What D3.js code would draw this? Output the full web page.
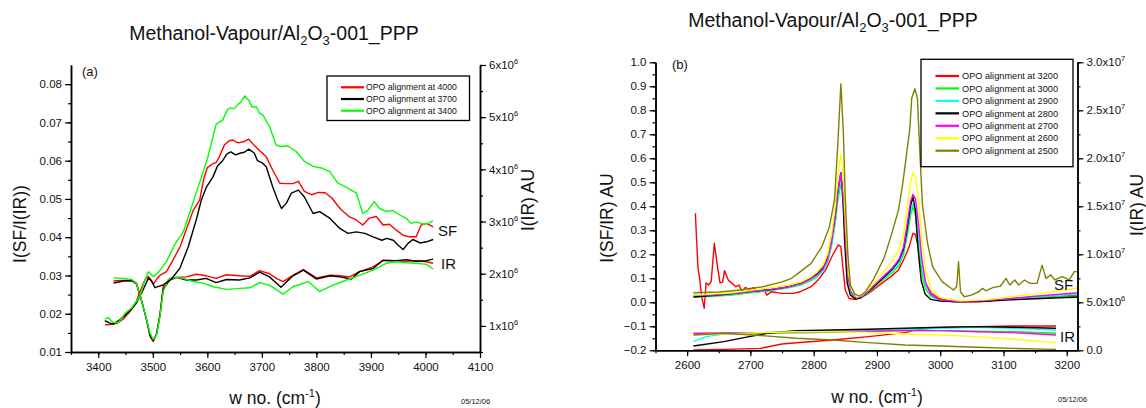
<!DOCTYPE html>
<html>
<head>
<meta charset="utf-8">
<script src="https://cdn.jsdelivr.net/npm/d3@7"></script>
<style>
  body { margin: 0; background: #fff; }
  text { font-family: "Liberation Sans", Arial, sans-serif; fill: #111; }
</style>
</head>
<body>
<svg id="chart" width="1146" height="408"></svg>
<script>
// ---------- Panel (a): OPO alignment 4000 / 3700 / 3400 ----------
const legendA = ["OPO alignment at 4000", "OPO alignment at 3700", "OPO alignment at 3400"];
const colorsA = ["#ff0000", "#000000", "#00ff00"];
const xTicksA = [3400, 3500, 3600, 3700, 3800, 3900, 4000, 4100];
const yTicksA = [0.01, 0.02, 0.03, 0.04, 0.05, 0.06, 0.07, 0.08];
const rTicksA = [1, 2, 3, 4, 5, 6];           // x10^6

// I(SF)/I(IR), wavenumber vs ratio
const sfA4000 = [[3412,0.0171],[3422,0.0172],[3434,0.0175],[3445,0.0185],[3458,0.0205],[3468,0.0225],[3476,0.0257],[3486,0.029],[3492,0.0297],[3497,0.0288],[3501,0.0277],[3507,0.029],[3513,0.030],[3525,0.031],[3537,0.034],[3550,0.0375],[3562,0.0423],[3574,0.047],[3586,0.0497],[3593,0.055],[3600,0.0582],[3610,0.0592],[3616,0.0595],[3622,0.061],[3631,0.064],[3640,0.0652],[3647,0.0654],[3653,0.0648],[3659,0.0647],[3667,0.065],[3676,0.0656],[3686,0.064],[3695,0.0627],[3708,0.061],[3720,0.0575],[3733,0.0541],[3745,0.054],[3757,0.054],[3767,0.0546],[3778,0.052],[3791,0.0511],[3804,0.0517],[3816,0.0516],[3828,0.0503],[3840,0.0481],[3846,0.0471],[3861,0.0453],[3873,0.0445],[3885,0.0432],[3897,0.045],[3910,0.0454],[3922,0.0432],[3934,0.0434],[3946,0.0419],[3959,0.0405],[3971,0.0401],[3983,0.0401],[3992,0.0432],[4002,0.0436],[4014,0.0427]];
const sfA3700 = [[3412,0.0182],[3420,0.0176],[3428,0.0173],[3440,0.0185],[3450,0.0197],[3459,0.021],[3470,0.0228],[3482,0.0262],[3492,0.0293],[3498,0.0285],[3504,0.0268],[3512,0.0272],[3519,0.0275],[3534,0.029],[3550,0.032],[3565,0.0375],[3580,0.0447],[3589,0.0497],[3598,0.053],[3610,0.0557],[3619,0.0587],[3628,0.060],[3636,0.0618],[3643,0.0623],[3652,0.0615],[3661,0.062],[3668,0.0622],[3676,0.063],[3686,0.062],[3692,0.060],[3700,0.0595],[3708,0.0584],[3720,0.0531],[3729,0.0497],[3736,0.0475],[3745,0.0489],[3754,0.0515],[3767,0.0523],[3778,0.0505],[3794,0.0462],[3806,0.0467],[3825,0.0449],[3843,0.0423],[3858,0.041],[3873,0.0414],[3889,0.041],[3904,0.0401],[3920,0.0392],[3929,0.0397],[3941,0.0392],[3950,0.0379],[3959,0.0368],[3968,0.0384],[3977,0.0394],[3990,0.0385],[4002,0.0388],[4014,0.0394]];
const sfA3400 = [[3412,0.0186],[3418,0.019],[3427,0.0177],[3437,0.0177],[3449,0.0201],[3461,0.0215],[3476,0.0245],[3485,0.0285],[3492,0.031],[3501,0.0297],[3508,0.0305],[3513,0.0314],[3525,0.0336],[3541,0.0383],[3556,0.0414],[3568,0.0465],[3578,0.051],[3590,0.056],[3601,0.061],[3610,0.066],[3616,0.0695],[3628,0.0706],[3637,0.0734],[3643,0.0738],[3649,0.0736],[3655,0.0745],[3661,0.0753],[3669,0.0769],[3676,0.0758],[3682,0.074],[3690,0.0741],[3695,0.0725],[3702,0.0719],[3714,0.0689],[3726,0.0641],[3735,0.0637],[3747,0.0639],[3763,0.0624],[3778,0.0598],[3794,0.0585],[3809,0.0581],[3824,0.0572],[3839,0.0542],[3857,0.0529],[3873,0.0516],[3880,0.0485],[3885,0.0462],[3894,0.047],[3906,0.0493],[3916,0.0475],[3928,0.0467],[3940,0.047],[3953,0.0458],[3965,0.0449],[3974,0.0436],[3983,0.044],[3996,0.0434],[4005,0.0436],[4014,0.0443]];

// I(IR), wavenumber vs intensity in units of 10^6
const irA4000 = [[3428,1.86],[3440,1.87],[3452,1.87],[3462,1.86],[3470,1.80],[3479,1.5],[3489,1.1],[3495,0.8],[3501,0.70],[3507,0.85],[3513,1.2],[3519,1.75],[3531,1.91],[3543,1.93],[3562,1.94],[3580,1.99],[3598,1.96],[3616,1.91],[3635,1.98],[3659,1.96],[3678,1.95],[3696,2.06],[3714,2.0],[3728,1.9],[3739,1.85],[3757,1.97],[3776,2.08],[3800,1.92],[3825,1.97],[3843,1.96],[3861,1.94],[3879,2.04],[3904,2.13],[3922,2.25],[3940,2.25],[3965,2.24],[3983,2.25],[4002,2.23],[4014,2.2]];
const irA3700 = [[3428,1.82],[3446,1.86],[3462,1.87],[3470,1.82],[3479,1.5],[3489,1.1],[3495,0.82],[3501,0.72],[3507,0.85],[3513,1.2],[3519,1.7],[3531,1.88],[3543,1.93],[3562,1.88],[3580,1.88],[3598,1.91],[3616,1.83],[3635,1.89],[3659,1.88],[3678,1.92],[3696,2.03],[3714,1.94],[3735,1.74],[3757,1.96],[3776,2.07],[3800,1.9],[3825,1.96],[3843,1.94],[3864,1.90],[3879,2.04],[3904,2.1],[3922,2.26],[3946,2.25],[3965,2.27],[3983,2.24],[4002,2.25],[4014,2.28]];
const irA3400 = [[3428,1.92],[3446,1.91],[3461,1.89],[3470,1.82],[3479,1.5],[3489,1.11],[3495,0.86],[3501,0.74],[3507,0.83],[3513,1.18],[3519,1.66],[3528,1.88],[3541,1.93],[3556,1.91],[3574,1.85],[3592,1.82],[3611,1.75],[3635,1.70],[3660,1.72],[3678,1.73],[3696,1.83],[3714,1.78],[3739,1.61],[3757,1.75],[3785,1.85],[3806,1.66],[3831,1.78],[3855,1.88],[3879,1.97],[3904,2.07],[3928,2.2],[3946,2.23],[3965,2.21],[3983,2.2],[4002,2.18],[4014,2.09]];

// ---------- Panel (b): OPO alignment 3200 ... 2500 ----------
const legendB = ["OPO alignment at 3200", "OPO alignment at 3000", "OPO alignment at 2900", "OPO alignment at 2800", "OPO alignment at 2700", "OPO alignment at 2600", "OPO alignment at 2500"];
const colorsB = ["#ff0000", "#00ff00", "#00ffff", "#000000", "#ff00ff", "#ffff00", "#808000"];
const xTicksB = [2600, 2700, 2800, 2900, 3000, 3100, 3200];
const yTicksB = [-0.2, -0.1, 0.0, 0.1, 0.2, 0.3, 0.4, 0.5, 0.6, 0.7, 0.8, 0.9, 1.0];
const rTicksB = [0, 5, 10, 15, 20, 25, 30];   // x10^6

const sfB3200 = [[2613,0.371],[2617,0.148],[2620,0.093],[2623,0.023],[2627,-0.025],[2630,0.081],[2634,0.072],[2638,0.086],[2643,0.246],[2648,0.148],[2652,0.081],[2656,0.083],[2659,0.132],[2665,0.093],[2670,0.081],[2677,0.065],[2682,0.072],[2687,0.044],[2692,0.062],[2699,0.051],[2705,0.062],[2713,0.044],[2722,0.051],[2726,0.03],[2733,0.044],[2750,0.037],[2767,0.037],[2779,0.044],[2796,0.065],[2807,0.093],[2819,0.135],[2830,0.197],[2839,0.239],[2843,0.232],[2846,0.148],[2850,0.051],[2856,0.016],[2865,0.012],[2873,0.02],[2882,0.03],[2894,0.051],[2911,0.086],[2922,0.107],[2934,0.135],[2942,0.176],[2951,0.232],[2957,0.288],[2961,0.281],[2965,0.232],[2971,0.148],[2977,0.079],[2986,0.037],[2998,0.016],[3021,0.002],[3061,0.002],[3118,0.016],[3175,0.023],[3220,0.03]];
const sfB3000 = [[2610,0.022],[2640,0.025],[2670,0.03],[2700,0.04],[2730,0.048],[2760,0.06],[2780,0.072],[2795,0.09],[2805,0.105],[2815,0.135],[2822,0.17],[2828,0.23],[2834,0.33],[2838,0.42],[2843,0.50],[2847,0.40],[2851,0.2],[2855,0.07],[2860,0.03],[2868,0.015],[2876,0.02],[2885,0.035],[2895,0.06],[2905,0.085],[2915,0.105],[2925,0.125],[2935,0.155],[2942,0.2],[2948,0.28],[2953,0.36],[2957,0.40],[2961,0.36],[2965,0.25],[2970,0.13],[2976,0.06],[2985,0.025],[3000,0.008],[3030,0.003],[3070,0.005],[3110,0.012],[3150,0.018],[3220,0.027]];
const sfB2900 = [[2610,0.025],[2640,0.027],[2670,0.033],[2700,0.042],[2730,0.05],[2760,0.062],[2780,0.075],[2795,0.092],[2805,0.108],[2815,0.13],[2822,0.17],[2828,0.24],[2834,0.34],[2838,0.44],[2843,0.51],[2847,0.42],[2851,0.22],[2855,0.08],[2860,0.035],[2868,0.016],[2876,0.022],[2885,0.04],[2895,0.065],[2905,0.09],[2915,0.11],[2925,0.135],[2935,0.165],[2942,0.21],[2948,0.3],[2953,0.38],[2957,0.41],[2961,0.38],[2966,0.28],[2971,0.15],[2977,0.07],[2986,0.025],[3000,0.008],[3030,0.003],[3070,0.006],[3110,0.014],[3150,0.022],[3220,0.035]];
const sfB2800 = [[2610,0.022],[2640,0.028],[2670,0.035],[2700,0.045],[2730,0.052],[2760,0.065],[2780,0.08],[2795,0.1],[2805,0.118],[2815,0.145],[2822,0.19],[2828,0.26],[2834,0.36],[2838,0.46],[2843,0.54],[2846,0.45],[2849,0.25],[2853,0.08],[2858,0.03],[2866,0.014],[2874,0.018],[2885,0.04],[2895,0.065],[2905,0.09],[2915,0.115],[2925,0.14],[2935,0.175],[2942,0.22],[2948,0.31],[2953,0.4],[2957,0.44],[2961,0.38],[2965,0.22],[2970,0.09],[2976,0.035],[2985,0.012],[3000,0.005],[3030,0.002],[3070,0.004],[3110,0.01],[3150,0.015],[3220,0.022]];
const sfB2700 = [[2610,0.03],[2640,0.03],[2670,0.036],[2700,0.045],[2730,0.053],[2760,0.065],[2780,0.078],[2795,0.097],[2805,0.113],[2815,0.14],[2822,0.18],[2828,0.25],[2834,0.36],[2838,0.46],[2843,0.54],[2847,0.44],[2851,0.24],[2855,0.09],[2860,0.04],[2868,0.018],[2876,0.024],[2885,0.042],[2895,0.07],[2905,0.095],[2915,0.12],[2925,0.145],[2935,0.18],[2942,0.23],[2948,0.33],[2953,0.42],[2957,0.45],[2961,0.43],[2966,0.32],[2971,0.18],[2977,0.08],[2986,0.03],[3000,0.01],[3030,0.003],[3070,0.007],[3110,0.016],[3150,0.025],[3220,0.04]];
const sfB2600 = [[2610,0.03],[2640,0.035],[2670,0.04],[2700,0.05],[2730,0.06],[2760,0.072],[2780,0.085],[2795,0.105],[2805,0.125],[2815,0.155],[2822,0.2],[2828,0.28],[2834,0.4],[2838,0.52],[2843,0.62],[2847,0.52],[2851,0.3],[2855,0.12],[2860,0.05],[2868,0.022],[2876,0.028],[2885,0.05],[2895,0.08],[2905,0.11],[2915,0.14],[2925,0.175],[2935,0.22],[2942,0.28],[2948,0.4],[2953,0.5],[2957,0.54],[2961,0.52],[2966,0.42],[2971,0.26],[2977,0.13],[2986,0.05],[3000,0.02],[3030,0.006],[3070,0.01],[3110,0.022],[3150,0.035],[3190,0.048],[3220,0.062]];
const sfB2500 = [[2610,0.04],[2650,0.043],[2680,0.05],[2700,0.058],[2720,0.065],[2750,0.085],[2765,0.1],[2779,0.128],[2796,0.162],[2813,0.232],[2825,0.315],[2833,0.43],[2838,0.65],[2843,0.91],[2847,0.7],[2850,0.43],[2854,0.2],[2858,0.072],[2865,0.034],[2873,0.026],[2882,0.044],[2894,0.093],[2911,0.183],[2922,0.273],[2934,0.384],[2940,0.48],[2945,0.58],[2952,0.725],[2955,0.85],[2960,0.89],[2964,0.85],[2968,0.614],[2972,0.405],[2980,0.246],[2988,0.148],[3003,0.086],[3021,0.051],[3026,0.065],[3029,0.169],[3032,0.044],[3038,0.023],[3049,0.03],[3061,0.044],[3067,0.058],[3072,0.048],[3084,0.062],[3095,0.067],[3104,0.1],[3110,0.072],[3118,0.093],[3124,0.072],[3133,0.093],[3142,0.079],[3153,0.079],[3161,0.155],[3167,0.1],[3175,0.114],[3181,0.093],[3193,0.107],[3204,0.093],[3212,0.128],[3220,0.128]];

// I(IR) in units of 10^6
const irB3200 = [[2610,0.03],[2660,0.1],[2716,0.2],[2750,0.65],[2773,0.79],[2830,1.07],[2887,1.42],[2944,1.84],[2967,2.2],[3001,2.36],[3058,2.47],[3116,2.53],[3183,2.53]];
const irB3000 = [[2610,1.7],[2716,1.77],[2830,1.87],[2944,2.05],[3001,2.05],[3116,1.94],[3183,1.77]];
const irB2900 = [[2610,0.9],[2630,1.42],[2658,1.7],[2716,1.84],[2773,1.94],[2887,2.05],[3001,2.29],[3058,2.4],[3116,2.29],[3183,2.12]];
const irB2800 = [[2610,0.45],[2658,0.9],[2698,1.42],[2727,1.77],[2773,2.05],[2830,2.12],[2887,2.19],[2944,2.29],[3001,2.4],[3058,2.47],[3116,2.4],[3183,2.29]];
const irB2700 = [[2610,1.77],[2716,1.84],[2830,1.94],[2944,2.05],[3001,2.05],[3058,1.94],[3116,1.84],[3183,1.6]];
const irB2600 = [[2610,1.6],[2658,1.7],[2716,1.84],[2773,1.94],[2830,1.94],[2887,1.87],[2944,1.7],[3001,1.6],[3058,1.42],[3116,1.15],[3183,0.8]];
const irB2500 = [[2610,1.6],[2658,1.77],[2705,1.6],[2773,1.25],[2830,1.07],[2887,0.8],[2944,0.55],[3001,0.45],[3058,0.31],[3116,0.2],[3183,0.1]];

// ---------- drawing ----------
const svg = d3.select("#chart");
const FONT_TICK = 11.5;

function supLabel(sel, base, exp) {
  sel.text(null);
  sel.append("tspan").text(base);
  sel.append("tspan").attr("dy", -5).attr("font-size", 7.5).text(exp);
}

function drawPanel(p) {
  const g = svg.append("g");
  const x = d3.scaleLinear().domain(p.xDomain).range([p.left, p.right]);
  const y = d3.scaleLinear().domain(p.yDomain).range([p.bottom, p.top]);
  const r = d3.scaleLinear().domain(p.rDomain).range([p.bottom, p.top]);

  const clipId = "clip-" + p.id;
  g.append("clipPath").attr("id", clipId).append("rect")
    .attr("x", p.left).attr("y", p.top).attr("width", p.right - p.left).attr("height", p.bottom - p.top);

  // series
  const plot = g.append("g").attr("clip-path", `url(#${clipId})`);
  const lineL = d3.line().x(d => x(d[0])).y(d => y(d[1]));
  const lineR = d3.line().x(d => x(d[0])).y(d => r(d[1]));
  p.ir.forEach((s, i) => plot.append("path").attr("d", lineR(s)).attr("fill", "none")
    .attr("stroke", p.colors[i]).attr("stroke-width", 1.4).attr("stroke-linejoin", "round"));
  p.sf.forEach((s, i) => plot.append("path").attr("d", lineL(s)).attr("fill", "none")
    .attr("stroke", p.colors[i]).attr("stroke-width", 1.4).attr("stroke-linejoin", "round"));

  // axes: minor ticks first, then major ticks with labels
  const minorX = d3.range(Math.ceil(p.xDomain[0] / 50) * 50, p.xDomain[1] + 1, 50);
  const axB = g.append("g").attr("transform", `translate(0,${p.bottom})`);
  axB.append("g").call(d3.axisBottom(x).tickValues(minorX).tickSize(3).tickSizeOuter(0).tickFormat(""));
  axB.append("g").call(d3.axisBottom(x).tickValues(p.xTicks).tickSize(6).tickSizeOuter(0).tickPadding(5).tickFormat(d3.format("d")));

  const axL = g.append("g").attr("transform", `translate(${p.left},0)`);
  axL.append("g").call(d3.axisLeft(y).tickValues(p.yMinor).tickSize(3).tickSizeOuter(0).tickFormat(""));
  axL.append("g").call(d3.axisLeft(y).tickValues(p.yTicks).tickSize(6).tickSizeOuter(0).tickPadding(3).tickFormat(p.yFormat));

  const axR = g.append("g").attr("transform", `translate(${p.right},0)`);
  axR.append("g").call(d3.axisRight(r).tickValues(p.rMinor).tickSize(3).tickSizeOuter(0).tickFormat(""));
  const major = axR.append("g").call(d3.axisRight(r).tickValues(p.rTicks).tickSize(6).tickSizeOuter(0).tickPadding(3));
  major.selectAll(".tick text").each(function(d) { const l = p.rLabel(d); supLabel(d3.select(this), l[0], l[1]); });

  g.selectAll(".domain").attr("stroke", "#000").attr("stroke-width", 1.5);
  g.selectAll(".tick line").attr("stroke", "#000").attr("stroke-width", 1.2);
  g.selectAll(".tick text").attr("font-size", FONT_TICK).attr("font-family", "Liberation Sans, Arial, sans-serif").attr("fill", "#111");

  // title
  const t = g.append("text").attr("x", p.titleX).attr("y", p.titleY).attr("text-anchor", "middle").attr("font-size", 19.5);
  t.append("tspan").text("Methanol-Vapour/Al");
  t.append("tspan").attr("dy", 5).attr("font-size", 13).text("2");
  t.append("tspan").attr("dy", -5).text("O");
  t.append("tspan").attr("dy", 5).attr("font-size", 13).text("3");
  t.append("tspan").attr("dy", -5).text("-001_PPP");

  // panel tag
  g.append("text").attr("x", p.tagX).attr("y", p.tagY).attr("font-size", 13).text(p.tag);

  // axis titles
  const xt = g.append("text").attr("x", p.xTitleX).attr("y", p.xTitleY).attr("text-anchor", "middle").attr("font-size", 17.5);
  xt.append("tspan").text("w no. (cm");
  xt.append("tspan").attr("dy", -7).attr("font-size", 11).text("-1");
  xt.append("tspan").attr("dy", 7).text(")");

  g.append("text").attr("transform", `translate(${p.yTitleX},${p.yTitleY}) rotate(-90)`)
    .attr("text-anchor", "middle").attr("font-size", 17.5).text(p.yTitle);
  g.append("text").attr("transform", `translate(${p.rTitleX},${p.rTitleY}) rotate(-90)`)
    .attr("text-anchor", "middle").attr("font-size", 17.5).text("I(IR) AU");

  // SF / IR markers
  g.append("text").attr("x", p.sfX).attr("y", p.sfY).attr("font-size", 15).text("SF");
  g.append("text").attr("x", p.irX).attr("y", p.irY).attr("font-size", 15).text("IR");

  // date stamp
  g.append("text").attr("x", p.dateX).attr("y", p.dateY).attr("font-size", 7.5).text("05/12/06");

  // legend
  const lg = g.append("g");
  lg.append("rect").attr("x", p.lg.x).attr("y", p.lg.y).attr("width", p.lg.w).attr("height", p.lg.h)
    .attr("fill", "#fff").attr("stroke", "#000").attr("stroke-width", 1.3);
  p.legend.forEach((name, i) => {
    const yy = p.lg.row0 + i * p.lg.step;
    lg.append("line").attr("x1", p.lg.lx1).attr("x2", p.lg.lx2).attr("y1", yy).attr("y2", yy)
      .attr("stroke", p.colors[i]).attr("stroke-width", 2.2);
    lg.append("text").attr("x", p.lg.tx).attr("y", yy).attr("dy", "0.35em").attr("font-size", p.lg.fs).text(name);
  });
}

const fmt2 = d3.format(".2f");
const fmt1 = d3.format(".1f");

drawPanel({
  id: "a", left: 71, right: 480, top: 65, bottom: 352,
  xDomain: [3350, 4100], yDomain: [0.01, 0.085], rDomain: [0.5, 6.0],
  xTicks: xTicksA, yTicks: yTicksA, rTicks: rTicksA,
  yMinor: d3.range(0, 17).map(i => 0.005 * i).filter(v => v >= 0.0099 && v <= 0.0851),
  rMinor: d3.range(1, 13).map(i => 0.5 * i).filter(v => v <= 6.0),
  yFormat: fmt2,
  rLabel: d => [d + "x10", "6"],
  sf: [sfA4000, sfA3700, sfA3400], ir: [irA4000, irA3700, irA3400],
  colors: colorsA, legend: legendA,
  titleX: 274, titleY: 40, tag: "(a)", tagX: 82, tagY: 76,
  xTitleX: 275, xTitleY: 404, yTitleX: 26, yTitleY: 224, yTitle: "I(SF/I(IR))",
  rTitleX: 534, rTitleY: 200,
  sfX: 438, sfY: 236, irX: 441, irY: 268.5,
  dateX: 461, dateY: 404,
  lg: { x: 327, y: 76, w: 142.5, h: 44.5, row0: 87.3, step: 11.7, lx1: 341, lx2: 364, tx: 366, fs: 8.7 }
});

drawPanel({
  id: "b", left: 655.5, right: 1077.5, top: 62.3, bottom: 350.3,
  xDomain: [2550, 3217], yDomain: [-0.2, 1.0], rDomain: [0, 30],
  xTicks: xTicksB, yTicks: yTicksB, rTicks: rTicksB,
  yMinor: d3.range(-4, 21).map(i => 0.05 * i),
  rMinor: d3.range(0, 13).map(i => 2.5 * i),
  yFormat: fmt1,
  rLabel: d => d === 0 ? ["0.0", ""] : d < 10 ? ["5.0x10", "6"] : [fmt1(d / 10) + "x10", "7"],
  sf: [sfB3200, sfB3000, sfB2900, sfB2800, sfB2700, sfB2600, sfB2500],
  ir: [irB3200, irB3000, irB2900, irB2800, irB2700, irB2600, irB2500],
  colors: colorsB, legend: legendB,
  titleX: 833, titleY: 27, tag: "(b)", tagX: 672, tagY: 69,
  xTitleX: 877, xTitleY: 403, yTitleX: 613, yTitleY: 218, yTitle: "I(SF/IR) AU",
  rTitleX: 1143, rTitleY: 205,
  sfX: 1054, sfY: 290, irX: 1060, irY: 342,
  dateX: 1058, dateY: 402,
  lg: { x: 921, y: 59.3, w: 152, h: 107.4, row0: 76, step: 12.45, lx1: 935.5, lx2: 959, tx: 962, fs: 9.2 }
});
</script>
</body>
</html>
